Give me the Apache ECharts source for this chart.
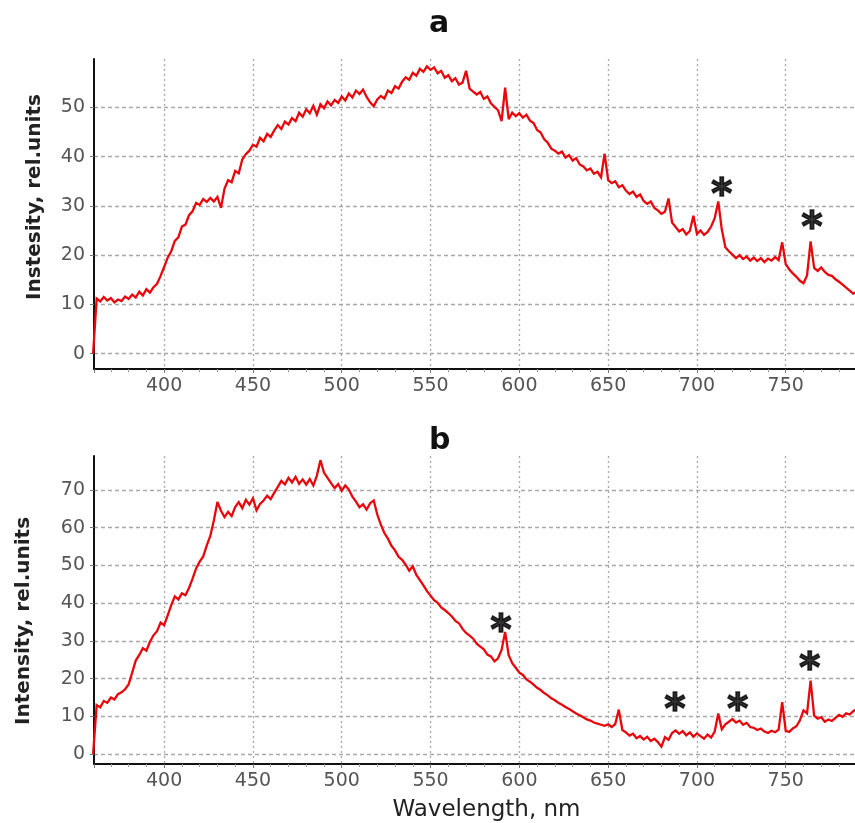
<!DOCTYPE html>
<html>
<head>
<meta charset="utf-8">
<script src="https://cdn.jsdelivr.net/npm/echarts@6.0.0/dist/echarts.min.js"></script>
<style>
  html, body { margin: 0; padding: 0; background: #fff; }
  #chart { width: 855px; height: 823px; }
</style>
</head>
<body>
<div id="chart"></div>
<script>
// wavelength, nm (same grid for both spectra)
var wavelength = [
    360, 362, 364, 366, 368, 370, 372, 374, 376, 378,
    380, 382, 384, 386, 388, 390, 392, 394, 396, 398,
    400, 402, 404, 406, 408, 410, 412, 414, 416, 418,
    420, 422, 424, 426, 428, 430, 432, 434, 436, 438,
    440, 442, 444, 446, 448, 450, 452, 454, 456, 458,
    460, 462, 464, 466, 468, 470, 472, 474, 476, 478,
    480, 482, 484, 486, 488, 490, 492, 494, 496, 498,
    500, 502, 504, 506, 508, 510, 512, 514, 516, 518,
    520, 522, 524, 526, 528, 530, 532, 534, 536, 538,
    540, 542, 544, 546, 548, 550, 552, 554, 556, 558,
    560, 562, 564, 566, 568, 570, 572, 574, 576, 578,
    580, 582, 584, 586, 588, 590, 592, 594, 596, 598,
    600, 602, 604, 606, 608, 610, 612, 614, 616, 618,
    620, 622, 624, 626, 628, 630, 632, 634, 636, 638,
    640, 642, 644, 646, 648, 650, 652, 654, 656, 658,
    660, 662, 664, 666, 668, 670, 672, 674, 676, 678,
    680, 682, 684, 686, 688, 690, 692, 694, 696, 698,
    700, 702, 704, 706, 708, 710, 712, 714, 716, 718,
    720, 722, 724, 726, 728, 730, 732, 734, 736, 738,
    740, 742, 744, 746, 748, 750, 752, 754, 756, 758,
    760, 762, 764, 766, 768, 770, 772, 774, 776, 778,
    780, 782, 784, 786, 788, 790
];

// panel a
var intensityA = [
    0, 11.2, 10.6, 11.5, 10.8, 11.3, 10.4, 11.0, 10.7, 11.6,
    11.1, 12.0, 11.4, 12.6, 11.8, 13.1, 12.4, 13.5, 14.2, 15.8,
    17.6, 19.5, 20.8, 22.9, 23.6, 25.8, 26.2, 28.1, 28.9, 30.6,
    30.2, 31.4, 30.8, 31.6, 30.9, 31.8, 29.6, 33.5, 35.2, 34.8,
    37.1, 36.6, 39.4, 40.5, 41.2, 42.4, 42.0, 43.8, 43.1, 44.6,
    44.0, 45.3, 46.4, 45.6, 47.1, 46.5, 47.8, 47.2, 48.9, 48.1,
    49.6, 48.8, 50.3, 48.5, 50.6, 49.8, 51.2, 50.4, 51.5, 50.9,
    52.2, 51.4, 52.8, 52.0, 53.4, 52.7, 53.6, 52.1, 51.0, 50.2,
    51.6, 52.3, 51.8, 53.4, 52.9, 54.3, 53.8, 55.2, 56.1, 55.6,
    57.0, 56.4, 57.8, 57.2, 58.3, 57.6, 58.1, 56.9, 57.4, 56.0,
    56.5, 55.3, 55.9, 54.6, 55.0, 57.4, 53.8, 53.2, 52.6, 53.1,
    51.7, 52.2, 50.8, 50.1, 49.4, 47.2, 54.0, 47.6, 48.9, 48.2,
    48.8, 47.9, 48.5, 47.3, 46.8, 45.4, 44.9, 43.5, 42.8, 41.6,
    41.2, 40.6, 41.0, 39.8, 40.3, 39.2, 39.7, 38.4, 38.0, 37.2,
    37.6, 36.5, 36.9, 35.8, 40.6, 35.2, 34.6, 35.0, 33.8, 34.2,
    33.1, 32.4, 32.9, 31.8, 32.3, 31.0, 30.4, 30.9, 29.6, 29.1,
    28.4, 28.8, 31.5, 26.6, 25.7, 24.8, 25.3, 24.2, 24.9, 28.0,
    24.3, 25.0, 24.1, 24.7, 25.8, 27.5, 30.9, 25.2, 21.6, 20.8,
    20.1, 19.4, 20.0, 19.2, 19.7, 18.9, 19.5, 18.8, 19.4, 18.6,
    19.3, 18.9, 19.6, 19.0, 22.6, 18.2, 17.1, 16.3, 15.6, 14.8,
    14.3, 15.9, 22.8, 17.4, 16.8, 17.5, 16.6, 16.0, 15.8, 15.1,
    14.6, 14.0, 13.4, 12.8, 12.2, 12.5
];

// panel b
var intensityB = [
    0, 13.0, 12.4, 14.1, 13.6, 15.0, 14.5, 15.9, 16.4, 17.2,
    18.5, 21.6, 24.8, 26.3, 28.1, 27.4, 29.8, 31.5, 32.6, 34.9,
    34.2, 36.8, 39.5, 41.8, 41.0, 42.6, 42.1, 44.0, 46.5, 49.2,
    51.0, 52.4, 55.3, 57.8, 62.0, 66.8, 64.5, 62.8, 64.2, 63.1,
    65.5, 66.8, 65.2, 67.4, 66.1, 67.8, 64.6, 66.3, 67.2, 68.5,
    67.6, 69.3, 70.8, 72.4, 71.5, 73.2, 72.0, 73.5, 71.6, 72.8,
    71.4, 72.9, 71.2, 73.8, 77.9, 74.6, 73.2, 71.8, 70.5, 71.6,
    69.8, 71.2, 70.1, 68.2, 66.9, 65.4, 66.2, 64.8, 66.5, 67.2,
    63.5, 60.8, 58.6, 57.1, 55.2, 54.0, 52.3, 51.5, 50.2, 48.6,
    49.8, 47.5, 46.1, 44.7, 43.2, 42.0, 40.8, 40.1, 38.9, 38.2,
    37.4, 36.5, 35.3, 34.7, 33.2, 32.1, 31.4, 30.6, 29.3, 28.5,
    27.8, 26.4, 25.9, 24.6, 25.4, 27.6, 32.4, 26.2, 24.1, 22.9,
    21.6, 21.0, 19.8, 19.2, 18.4, 17.6, 17.0, 16.2, 15.6, 14.8,
    14.3, 13.6, 13.1, 12.5, 12.0, 11.4, 10.8, 10.3, 9.8, 9.2,
    8.9, 8.4, 8.1, 7.8, 7.5, 7.9, 7.2, 8.0, 11.8, 6.4,
    5.8, 4.9, 5.4, 4.2, 4.8, 3.9, 4.6, 3.5, 4.1, 3.2,
    2.0, 4.5, 3.8, 5.6, 6.3, 5.4, 6.1, 5.0, 5.8, 4.6,
    5.5, 4.8, 4.1, 5.2, 4.4, 6.0, 10.8, 6.6, 7.9, 8.6,
    9.3, 8.4, 8.9, 7.8, 8.3, 7.2, 7.0, 6.4, 6.8, 6.0,
    5.6, 6.2, 5.8, 6.5, 13.8, 6.2, 5.9, 6.8, 7.4, 9.0,
    11.6, 10.8, 19.5, 10.2, 9.4, 9.8, 8.6, 9.2, 8.8, 9.6,
    10.4, 9.9, 10.8, 10.5, 11.4, 12.0
];

// asterisks marking the narrow lines: [wavelength, intensity]
var starsA = [[714, 34.2], [764.7, 27.5]];
var starsB = [[589.6, 35.2], [687.6, 14.2], [723, 14.2], [763.5, 25]];

var panelTitles = ['a', 'b'];
var yNames = ['Instesity, rel.units', 'Intensity, rel.units'];
var xName = 'Wavelength, nm';

var chart = echarts.init(document.getElementById('chart'), null, { renderer: 'canvas' });

function pairs(xs, ys) {
    return xs.map(function (x, i) { return [x, ys[i]]; });
}

function xAxisFor(gridIndex, name) {
    return {
        type: 'value',
        gridIndex: gridIndex,
        min: 360.5,
        max: 789,
        minInterval: 50,
        maxInterval: 50,
        name: name,
        nameLocation: 'middle',
        nameGap: 35,
        nameTextStyle: { color: '#222', fontSize: 23, fontFamily: 'DejaVu Sans', padding: [0, 0, 0, 24] },
        axisLine: { show: true, onZero: false, lineStyle: { color: '#111', width: 2 } },
        axisTick: { show: true, length: 4, lineStyle: { color: '#777' } },
        minorTick: { show: true, splitNumber: 5, length: 3, lineStyle: { color: '#999' } },
        axisLabel: {
            color: '#555', fontSize: 19, fontFamily: 'DejaVu Sans', margin: 8,
            showMinLabel: false, showMaxLabel: false
        },
        splitLine: {
            show: true, showMinLine: false, showMaxLine: false,
            lineStyle: { color: '#a8a8a8', width: 1.3, type: [2, 3] }
        }
    };
}

function yAxisFor(gridIndex, min, max, name, gap, pad) {
    return {
        type: 'value',
        gridIndex: gridIndex,
        min: min,
        max: max,
        minInterval: 10,
        maxInterval: 10,
        name: name,
        nameLocation: 'middle',
        nameGap: gap,
        nameTextStyle: { color: '#222', fontSize: 20, fontWeight: 'bold', fontFamily: 'DejaVu Sans', padding: pad },
        axisLine: { show: true, lineStyle: { color: '#111', width: 2 } },
        axisTick: { show: true, length: 4, lineStyle: { color: '#777' } },
        axisLabel: {
            color: '#555', fontSize: 19, fontFamily: 'DejaVu Sans', margin: 9,
            showMinLabel: false, showMaxLabel: false
        },
        splitLine: {
            show: true, showMinLine: false, showMaxLine: false,
            lineStyle: { color: '#a8a8a8', width: 1.3, type: [4, 3] }
        }
    };
}

function spectrum(idx, ys) {
    return {
        type: 'line',
        xAxisIndex: idx,
        yAxisIndex: idx,
        data: pairs(wavelength, ys),
        showSymbol: false,
        symbol: 'none',
        lineStyle: { color: '#e8080c', width: 2.3, join: 'miter', miterLimit: 3 },
        animation: false
    };
}

function stars(idx, pts) {
    return {
        type: 'scatter',
        xAxisIndex: idx,
        yAxisIndex: idx,
        data: pts,
        symbolSize: 1,
        itemStyle: { color: 'rgba(0,0,0,0)' },
        label: {
            show: true,
            position: 'inside',
            formatter: '*',
            offset: [0, 11],
            color: '#000',
            textBorderColor: '#000',
            textBorderWidth: 1.6,
            fontSize: 40,
            fontWeight: 'bold',
            fontFamily: 'DejaVu Sans'
        },
        animation: false
    };
}

chart.setOption({
    backgroundColor: '#fff',
    animation: false,
    title: [
        { text: panelTitles[0], left: 424, top: 4, textStyle: { fontSize: 30, fontWeight: 'bold', color: '#111', fontFamily: 'DejaVu Sans' } },
        { text: panelTitles[1], left: 424, top: 421, textStyle: { fontSize: 30, fontWeight: 'bold', color: '#111', fontFamily: 'DejaVu Sans' } }
    ],
    grid: [
        { left: 94, right: 0, top: 59, height: 310 },
        { left: 94, right: 0, top: 456, height: 311 }
    ],
    xAxis: [xAxisFor(0, ''), xAxisFor(1, xName)],
    yAxis: [
        yAxisFor(0, -3.1, 59.8, yNames[0], 49, [0, 0, 0, 34]),
        yAxisFor(1, -2.6, 79, yNames[1], 60, [0, 22, 0, 0])
    ],
    series: [
        spectrum(0, intensityA),
        spectrum(1, intensityB),
        stars(0, starsA),
        stars(1, starsB)
    ]
});
</script>
</body>
</html>
